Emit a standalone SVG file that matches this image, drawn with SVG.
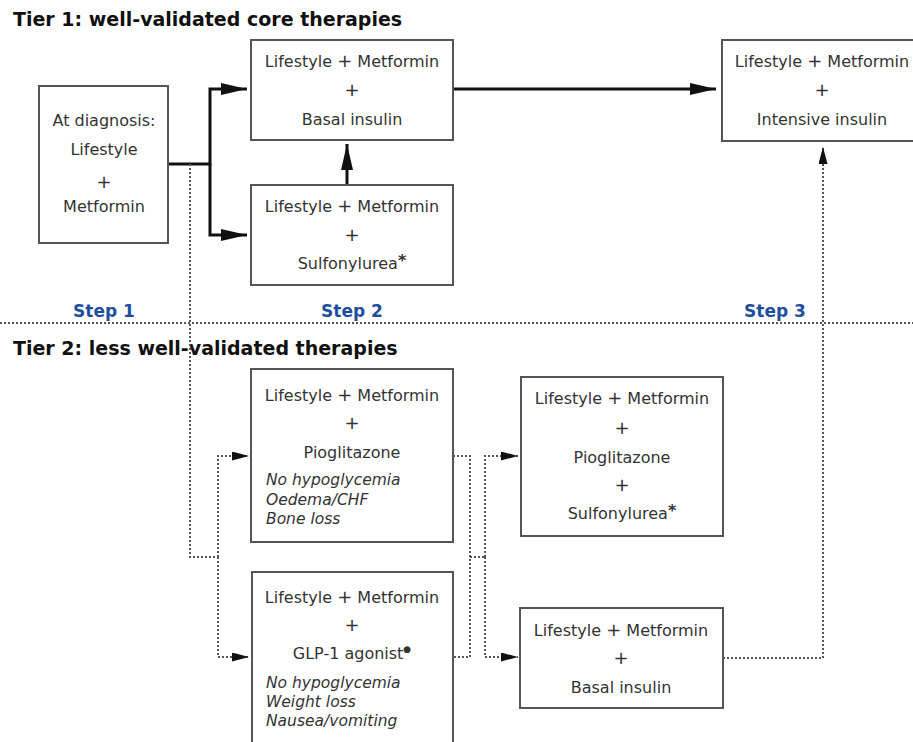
<svg xmlns="http://www.w3.org/2000/svg" width="913" height="742" viewBox="0 0 913 742">
<style>
.box{fill:#fff;stroke:#555;stroke-width:2}
.t{font-family:"DejaVu Sans",Verdana,sans-serif;font-size:16px;fill:#333;text-anchor:middle}
.pl{font-size:18px}
.it{font-family:"DejaVu Sans",Verdana,sans-serif;font-size:15.5px;font-style:italic;fill:#333}
.title{font-family:"DejaVu Sans",Verdana,sans-serif;font-size:19px;font-weight:bold;fill:#111}
.step{font-family:"DejaVu Sans",Verdana,sans-serif;font-size:17px;font-weight:bold;fill:#1f4e9c;text-anchor:middle}
.thick{fill:none;stroke:#111;stroke-width:3}
.dot{fill:none;stroke:#555;stroke-width:2;stroke-dasharray:2 2}
</style>
<defs>
<marker id="ah" markerUnits="userSpaceOnUse" markerWidth="28" markerHeight="14" refX="26" refY="6" orient="auto">
<path d="M0,0 L26,6 L0,12 Z" fill="#111"/>
</marker>
<marker id="ahs" markerUnits="userSpaceOnUse" markerWidth="18" markerHeight="10" refX="17" refY="4.5" orient="auto">
<path d="M0,0 L17,4.5 L0,9 Z" fill="#111"/>
</marker>
</defs>
<rect width="913" height="742" fill="#fff"/>
<text class="title" x="13" y="26">Tier 1: well-validated core therapies</text>
<text class="title" x="13" y="355">Tier 2: less well-validated therapies</text>
<text class="step" x="104" y="317">Step 1</text>
<text class="step" x="352" y="317">Step 2</text>
<text class="step" x="775" y="317">Step 3</text>

<g id="connectors">
<path class="dot" d="M0,323 H913"/>
<path class="thick" d="M168,164 H210 V89 H247" marker-end="url(#ah)"/>
<path class="thick" d="M210,164 V235 H247" marker-end="url(#ah)"/>
<path class="thick" d="M347,185 V144" marker-end="url(#ah)"/>
<path class="thick" d="M453,89 H716" marker-end="url(#ah)"/>
<path class="dot" d="M190,164 V557 H218"/>
<path class="dot" d="M218,557 V456 H249" marker-end="url(#ahs)"/>
<path class="dot" d="M218,557 V657 H249" marker-end="url(#ahs)"/>
<path class="dot" d="M453,456 H470 V657 H453"/>
<path class="dot" d="M470,557 H485"/>
<path class="dot" d="M485,557 V456 H518" marker-end="url(#ahs)"/>
<path class="dot" d="M485,557 V657 H518" marker-end="url(#ahs)"/>
<path class="dot" d="M723,658 H823 V147" marker-end="url(#ahs)"/>
</g>

<g id="n-diagnosis">
<rect class="box" x="39" y="86" width="129" height="157"/>
<text class="t" x="104" y="126">At diagnosis:</text>
<text class="t" x="104" y="155">Lifestyle</text>
<text class="t pl" x="104" y="188">+</text>
<text class="t" x="104" y="212">Metformin</text>
</g>

<g id="n-basal1">
<rect class="box" x="251" y="40" width="202" height="100"/>
<text class="t" x="352" y="67">Lifestyle <tspan class="pl">+</tspan> Metformin</text>
<text class="t pl" x="352" y="96">+</text>
<text class="t" x="352" y="125">Basal insulin</text>
</g>

<g id="n-sulf1">
<rect class="box" x="251" y="185" width="202" height="100"/>
<text class="t" x="352" y="212">Lifestyle <tspan class="pl">+</tspan> Metformin</text>
<text class="t pl" x="352" y="241">+</text>
<text class="t" x="352" y="269">Sulfonylurea<tspan font-weight="bold" dy="-3">*</tspan></text>
</g>

<g id="n-intensive">
<rect class="box" x="722" y="40" width="200" height="101"/>
<text class="t" x="822" y="67">Lifestyle <tspan class="pl">+</tspan> Metformin</text>
<text class="t pl" x="822" y="96">+</text>
<text class="t" x="822" y="125">Intensive insulin</text>
</g>

<g id="n-pio">
<rect class="box" x="251" y="369" width="202" height="173"/>
<text class="t" x="352" y="401">Lifestyle <tspan class="pl">+</tspan> Metformin</text>
<text class="t pl" x="352" y="429">+</text>
<text class="t" x="352" y="458">Pioglitazone</text>
<text class="it" x="266" y="485">No hypoglycemia</text>
<text class="it" x="266" y="505">Oedema/CHF</text>
<text class="it" x="266" y="524">Bone loss</text>
</g>

<g id="n-glp">
<rect class="box" x="252" y="572" width="201" height="180"/>
<text class="t" x="352" y="603">Lifestyle <tspan class="pl">+</tspan> Metformin</text>
<text class="t pl" x="352" y="631">+</text>
<text class="t" x="352" y="659">GLP-1 agonist<tspan font-size="9" dy="-7">●</tspan></text>
<text class="it" x="266" y="688">No hypoglycemia</text>
<text class="it" x="266" y="707">Weight loss</text>
<text class="it" x="266" y="726">Nausea/vomiting</text>
</g>

<g id="n-piosulf">
<rect class="box" x="521" y="377" width="202" height="159"/>
<text class="t" x="622" y="404">Lifestyle <tspan class="pl">+</tspan> Metformin</text>
<text class="t pl" x="622" y="434">+</text>
<text class="t" x="622" y="463">Pioglitazone</text>
<text class="t pl" x="622" y="491">+</text>
<text class="t" x="622" y="519">Sulfonylurea<tspan font-weight="bold" dy="-3">*</tspan></text>
</g>

<g id="n-basal2">
<rect class="box" x="520" y="608" width="203" height="100"/>
<text class="t" x="621" y="636">Lifestyle <tspan class="pl">+</tspan> Metformin</text>
<text class="t pl" x="621" y="664">+</text>
<text class="t" x="621" y="693">Basal insulin</text>
</g>
</svg>
